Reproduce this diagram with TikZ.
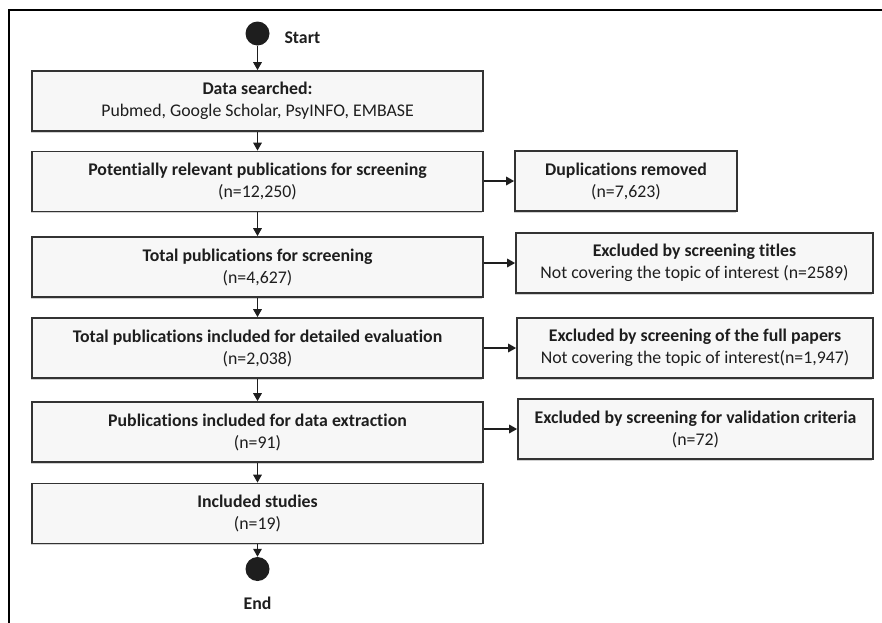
\documentclass[tikz,border=0pt]{standalone}
\usepackage{fontspec}
\setmainfont{Carlito}[Ligatures={NoCommon,NoRare,NoDiscretionary}]
\usetikzlibrary{arrows.meta,shadows}
\definecolor{boxfill}{HTML}{F7F7F7}
\definecolor{boxline}{HTML}{333333}
\definecolor{txt}{HTML}{1E1E1E}
\tikzset{
  mainbox/.style={draw=boxline, line width=1.7pt, fill=boxfill, minimum width=451pt, minimum height=60pt,
    align=center, inner sep=2pt, font=\fontsize{17.8}{22}\selectfont, text=txt,
    drop shadow={shadow xshift=-1.2pt, shadow yshift=-1.5pt, opacity=0.18, fill=black}},
  sidebox/.style={mainbox, minimum width=0pt},
  dot/.style={circle, fill=txt, draw=none, minimum size=24pt, inner sep=0pt},
  lbl/.style={font=\fontsize{17.8}{20}\selectfont\bfseries, text=txt},
  arr/.style={draw=txt, line width=1.6pt, -{Triangle[length=8pt,width=8.5pt]}},
}
\begin{document}
\begin{tikzpicture}[x=1pt,y=-1pt]
\useasboundingbox (0,0) rectangle (882,622);
\draw[line width=2.5pt, line cap=rect] (9,625) -- (9,10) -- (885,10);

\node[dot] (start) at (257.5,33.5) {};
\node[lbl, anchor=west] (startl) at (281,37.5) {Start};

\node[mainbox] (b1) at (257.5,101) {\textbf{Data searched:}\\Pubmed, Google Scholar, PsyINFO, EMBASE};
\node[mainbox] (b2) at (257.5,181.5) {\textbf{Potentially relevant publications for screening}\\(n=12,250)};
\node[mainbox] (b3) at (257.5,267) {\textbf{Total publications for screening}\\(n=4,627)};
\node[mainbox] (b4) at (257.5,348) {\textbf{Total publications included for detailed evaluation}\\(n=2,038)};
\node[mainbox] (b5) at (257.5,432) {\textbf{Publications included for data extraction}\\(n=91)};
\node[mainbox] (b6) at (257.5,513.5) {\textbf{Included studies}\\(n=19)};

\node[dot] (end) at (257.5,569) {};
\node[lbl] (endl) at (257.5,603) {End};

\node[sidebox, minimum width=222pt] (r1) at (626,181) {\textbf{Duplications removed}\\(n=7,623)};
\node[sidebox, minimum width=357pt] (r2) at (694.5,263) {\textbf{Excluded by screening titles}\\Not covering the topic of interest (n=2589)};
\node[sidebox, minimum width=356pt] (r3) at (695,348) {\textbf{Excluded by screening of the full papers}\\Not covering the topic of interest(n=1,947)};
\node[sidebox, minimum width=355pt] (r4) at (695.5,429) {\textbf{Excluded by screening for validation criteria}\\(n=72)};

\draw[arr] (start) -- (b1);
\draw[arr] (b1) -- (b2);
\draw[arr] (b2) -- (b3);
\draw[arr] (b3) -- (b4);
\draw[arr] (b4) -- (b5);
\draw[arr] (b5) -- (b6);
\draw[arr] (b6) -- (end);

\draw[arr] (b2.east |- r1.west) -- (r1.west);
\draw[arr] (b3.east |- r2.west) -- (r2.west);
\draw[arr] (b4.east |- r3.west) -- (r3.west);
\draw[arr] (b5.east |- r4.west) -- (r4.west);
\end{tikzpicture}
\end{document}
